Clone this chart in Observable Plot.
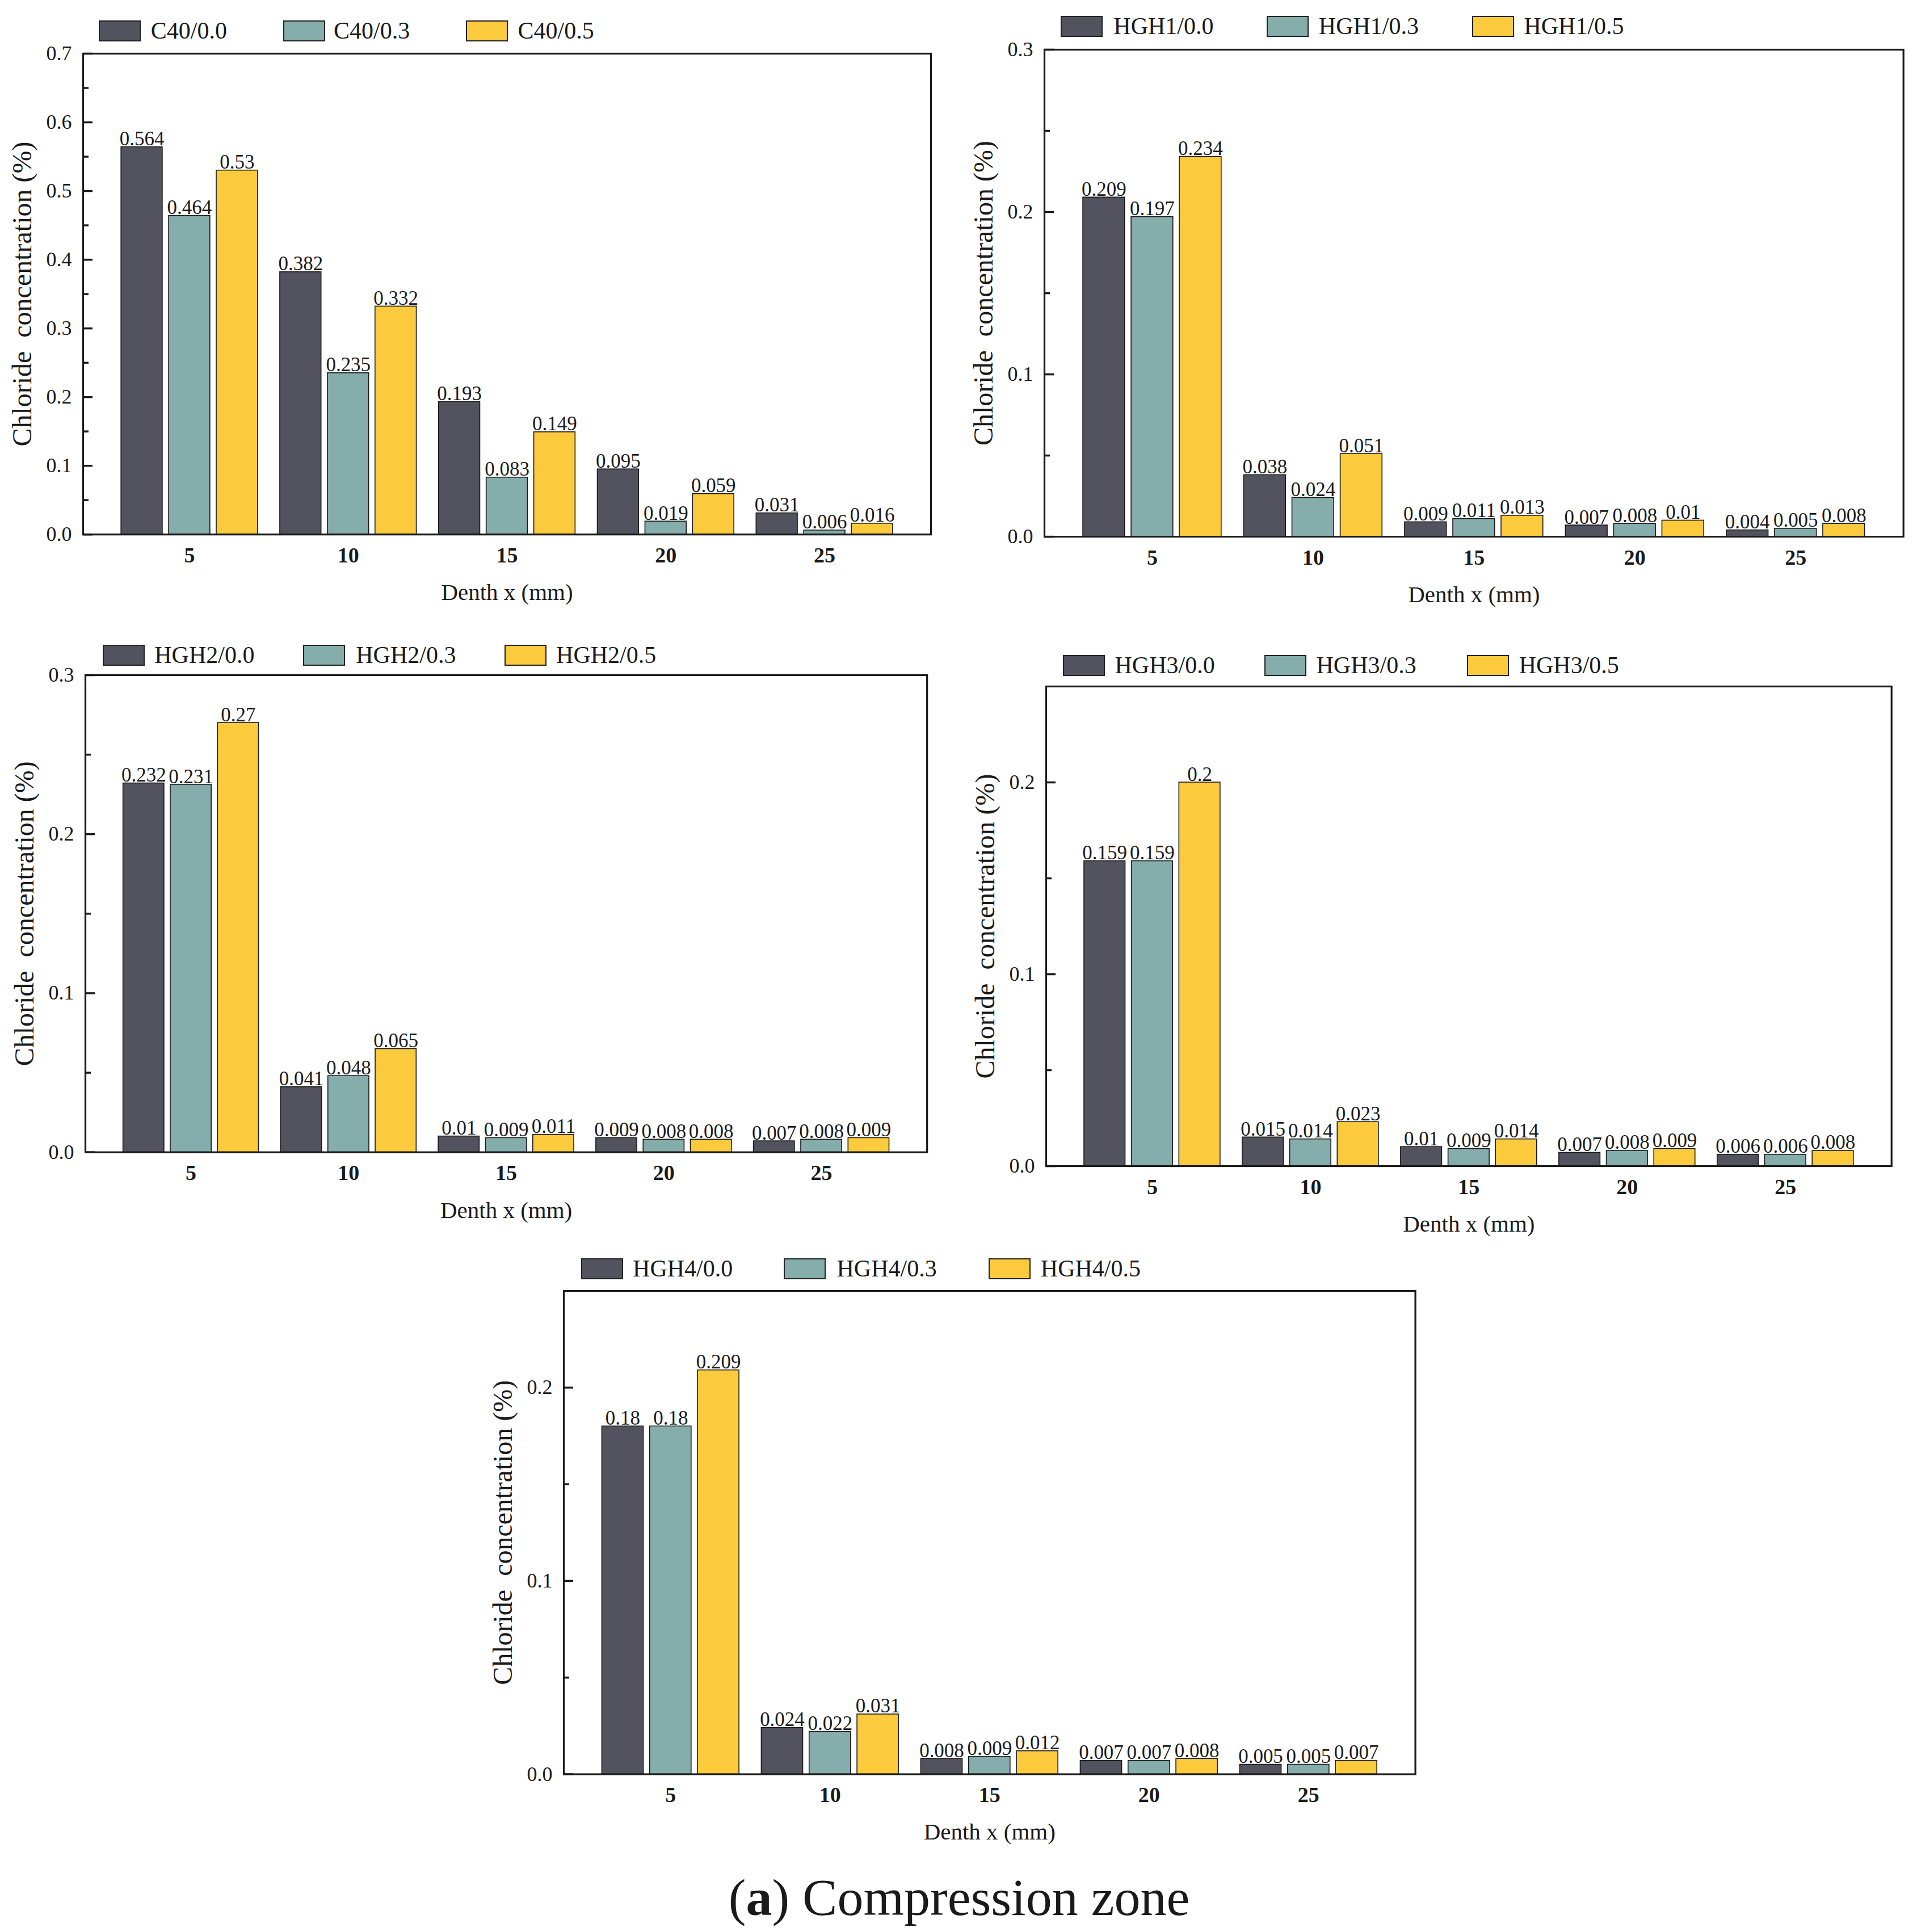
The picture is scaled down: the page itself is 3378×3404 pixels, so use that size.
<!DOCTYPE html>
<html><head><meta charset="utf-8">
<script src="https://cdn.jsdelivr.net/npm/d3@7"></script>
<script src="https://cdn.jsdelivr.net/npm/@observablehq/plot@0.6"></script>
<style>
html,body{margin:0;padding:0;background:#fff;}
#root{position:relative;width:3378px;height:3404px;background:#fff;overflow:hidden;font-family:"Liberation Serif",serif;color:#1a1a1a;}
.panel{position:absolute;}
.sw{position:absolute;border:2.5px solid #222;box-sizing:border-box;}
.lt{position:absolute;white-space:nowrap;transform:translateY(-50%);font-size:42px;line-height:1;}
.cap{position:absolute;white-space:nowrap;transform:translate(-50%,-50%);font-size:92px;line-height:1;}
</style></head><body><div id="root"></div>
<script>
// ---- data ----
const depths = [5, 10, 15, 20, 25];
const suffixes = ["0.0", "0.3", "0.5"];
const seriesColors = ["#53525f", "#84adab", "#fccb3d"];

const c40_00 = [0.564, 0.382, 0.193, 0.095, 0.031];
const c40_03 = [0.464, 0.235, 0.083, 0.019, 0.006];
const c40_05 = [0.53, 0.332, 0.149, 0.059, 0.016];

const hgh1_00 = [0.209, 0.038, 0.009, 0.007, 0.004];
const hgh1_03 = [0.197, 0.024, 0.011, 0.008, 0.005];
const hgh1_05 = [0.234, 0.051, 0.013, 0.01, 0.008];

const hgh2_00 = [0.232, 0.041, 0.01, 0.009, 0.007];
const hgh2_03 = [0.231, 0.048, 0.009, 0.008, 0.008];
const hgh2_05 = [0.27, 0.065, 0.011, 0.008, 0.009];

const hgh3_00 = [0.159, 0.015, 0.01, 0.007, 0.006];
const hgh3_03 = [0.159, 0.014, 0.009, 0.008, 0.006];
const hgh3_05 = [0.2, 0.023, 0.014, 0.009, 0.008];

const hgh4_00 = [0.18, 0.024, 0.008, 0.007, 0.005];
const hgh4_03 = [0.18, 0.022, 0.009, 0.007, 0.005];
const hgh4_05 = [0.209, 0.031, 0.012, 0.008, 0.007];

const yLabel = "Chloride\u00a0\u00a0concentration (%)";
const xLabel = "Denth x (mm)";
const caption = "Compression zone";

// ---- layout (reference units, scaled) ----
const S = 3378 / 1551;
const panels = [
  {mix: "C40", series: [c40_00, c40_03, c40_05], ymax: 0.7,
   frame: [67, 753, 43, 432], legY: 25, legSw: [80, 229, 377], legTx: [122, 270, 419]},
  {mix: "HGH1", series: [hgh1_00, hgh1_03, hgh1_05], ymax: 0.3,
   frame: [845, 1540, 40, 434], legY: 21, legSw: [858, 1025, 1191], legTx: [901, 1067, 1233]},
  {mix: "HGH2", series: [hgh2_00, hgh2_03, hgh2_05], ymax: 0.3,
   frame: [69, 750, 546, 932], legY: 530, legSw: [83, 245, 408], legTx: [125, 288, 450]},
  {mix: "HGH3", series: [hgh3_00, hgh3_03, hgh3_05], ymax: 0.25,
   frame: [846, 1530, 555, 943], legY: 538, legSw: [860, 1023, 1187], legTx: [902, 1065, 1229]},
  {mix: "HGH4", series: [hgh4_00, hgh4_03, hgh4_05], ymax: 0.25,
   frame: [456, 1145, 1044, 1435], legY: 1026, legSw: [470, 634, 800], legTx: [512, 677, 842]}
];

const root = document.getElementById("root");
const pitch = 1.5, bw = 1.3;

function drawPanel(p) {
  const [a0, a1, b0, b1] = p.frame.map(v => v * S);
  const mL = 140, mR = 14, mT = 14, mB = 160;
  const names = suffixes.map(s => `${p.mix}/${s}`);
  const data = [];
  p.series.forEach((vals, si) => vals.forEach((v, di) =>
    data.push({depth: depths[di], si, series: names[si], value: v})));
  const majors = d3.range(0, p.ymax + 1e-9, 0.1);
  const minors = d3.range(0.05, p.ymax - 1e-9, 0.1);
  const chart = Plot.plot({
    width: (a1 - a0) + mL + mR,
    height: (b1 - b0) + mT + mB,
    marginLeft: mL, marginRight: mR, marginTop: mT, marginBottom: mB,
    style: {fontFamily: "Liberation Serif", fontSize: "35px", color: "#1a1a1a", background: "transparent", overflow: "visible"},
    x: {domain: [1.65, 28.35]},
    y: {domain: [0, p.ymax]},
    color: {domain: names, range: seriesColors},
    marks: [
      Plot.rectY(data, {
        x1: d => d.depth + (d.si - 1) * pitch - bw / 2,
        x2: d => d.depth + (d.si - 1) * pitch + bw / 2,
        y1: 0, y2: "value", fill: "series", stroke: "#1a1a1a", strokeWidth: 1.6
      }),
      Plot.text(data, {
        x: d => d.depth + (d.si - 1) * pitch, y: "value",
        text: d => String(d.value), lineAnchor: "bottom", dy: -3, fontSize: 35
      }),
      Plot.axisY(majors, {tickSize: 0, tickPadding: 20, tickFormat: d3.format(".1f"), fontSize: 36, label: null}),
      Plot.axisY(majors, {tickSize: 17, dx: 17, fill: "none", strokeWidth: 3.5, label: null}),
      Plot.axisY(minors, {tickSize: 10, dx: 10, fill: "none", strokeWidth: 3.5, label: null}),
      Plot.axisX(depths, {tickSize: 0, tickPadding: 22, fontWeight: "bold", fontSize: 38, label: null}),
      Plot.frame({stroke: "#1a1a1a", strokeWidth: 3.2}),
      Plot.text([yLabel], {frameAnchor: "left", textAnchor: "middle", rotate: -90, dx: -49 * S, fontSize: 48}),
      Plot.text([xLabel], {frameAnchor: "bottom", textAnchor: "middle", dy: 53 * S, fontSize: 41})
    ]
  });
  const wrap = document.createElement("div");
  wrap.className = "panel";
  wrap.style.left = (a0 - mL) + "px";
  wrap.style.top = (b0 - mT) + "px";
  wrap.appendChild(chart);
  root.appendChild(wrap);

  // legend
  names.forEach((n, i) => {
    const sw = document.createElement("div");
    sw.className = "sw";
    sw.style.left = (p.legSw[i] * S) + "px";
    sw.style.top = (p.legY * S - 18) + "px";
    sw.style.width = "74px";
    sw.style.height = "37px";
    sw.style.background = seriesColors[i];
    root.appendChild(sw);
    const t = document.createElement("div");
    t.className = "lt";
    t.style.left = (p.legTx[i] * S) + "px";
    t.style.top = (p.legY * S) + "px";
    t.textContent = n;
    root.appendChild(t);
  });
}
panels.forEach(drawPanel);

const cap = document.createElement("div");
cap.className = "cap";
cap.style.left = (776 * S) + "px";
cap.style.top = (1535 * S) + "px";
cap.innerHTML = "(<b>a</b>) " + caption;
root.appendChild(cap);
</script>
</body></html>
